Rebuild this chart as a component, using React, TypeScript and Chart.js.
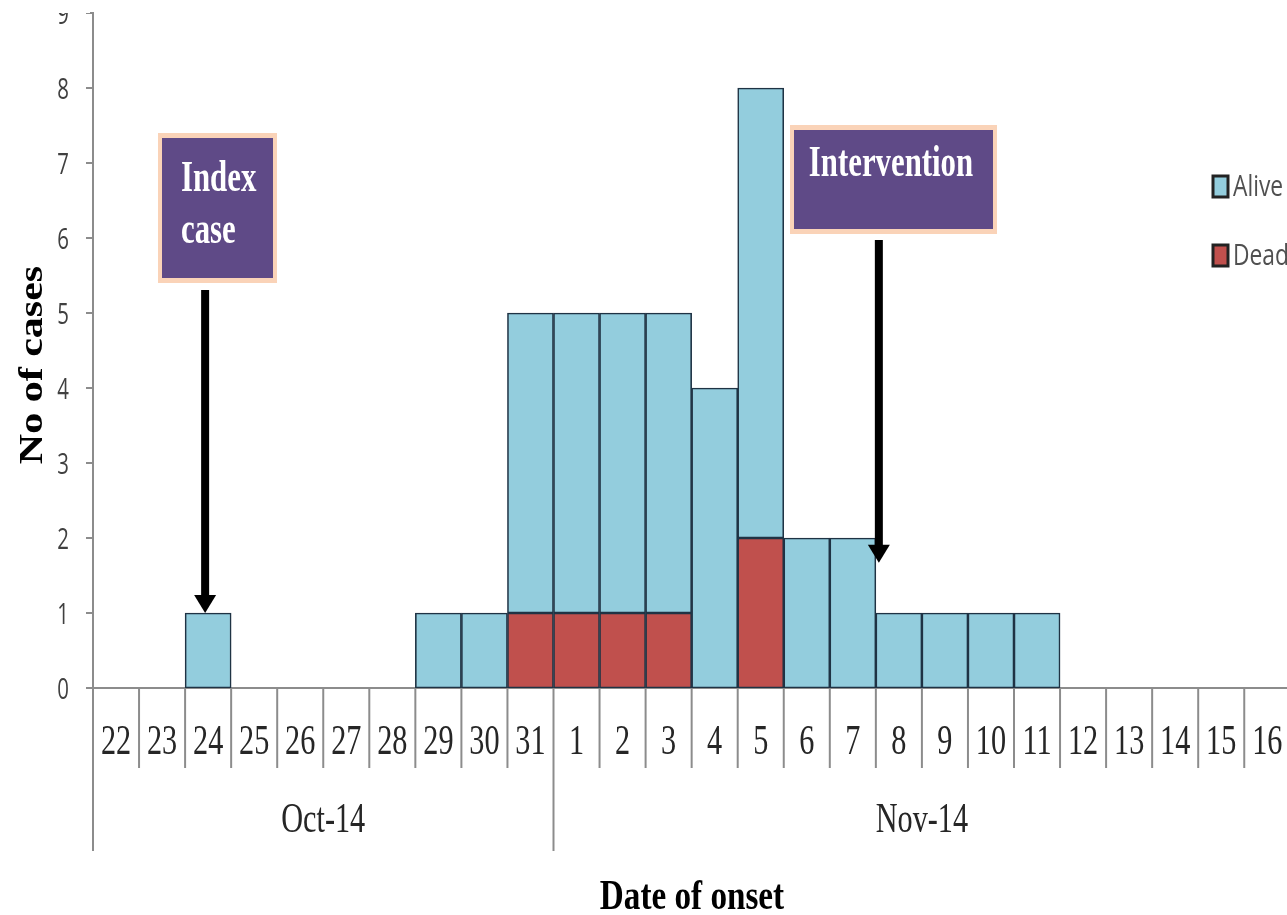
import React, { useEffect, useRef } from "react";
import { Chart, registerables } from "chart.js";

Chart.register(...registerables);

// ---- data ----
const days = ["22", "23", "24", "25", "26", "27", "28", "29", "30", "31", "1", "2", "3", "4", "5", "6", "7", "8", "9", "10", "11", "12", "13", "14", "15", "16"];
const monthLabels = ["Oct-14", "Nov-14"];
const monthStartIndex = [0, 10];
const monthEndIndex = [9, 25];
const alive = [0, 0, 1, 0, 0, 0, 0, 1, 1, 4, 4, 4, 4, 4, 6, 2, 2, 1, 1, 1, 1, 0, 0, 0, 0, 0];
const dead = [0, 0, 0, 0, 0, 0, 0, 0, 0, 1, 1, 1, 1, 0, 2, 0, 0, 0, 0, 0, 0, 0, 0, 0, 0, 0];
const seriesNames = ["Alive", "Dead"];
const yTicks = [0, 1, 2, 3, 4, 5, 6, 7, 8, 9];

const BLUE = "#93CDDD";
const RED = "#C0504D";
const EDGE = "#1f3344";
const AXIS = "#8c8c8c";

function txt(ctx: CanvasRenderingContext2D, s: string, x: number, y: number, font: string, color: string, sx: number, align: CanvasTextAlign = "center") {
  ctx.save();
  ctx.translate(x, y);
  ctx.scale(sx, 1);
  ctx.font = font;
  ctx.fillStyle = color;
  ctx.textAlign = align;
  ctx.textBaseline = "middle";
  ctx.fillText(s, 0, 0);
  ctx.restore();
}

function arrow(ctx: CanvasRenderingContext2D, x: number, y0: number, y1: number) {
  ctx.save();
  ctx.strokeStyle = "#000";
  ctx.fillStyle = "#000";
  ctx.lineWidth = 8;
  ctx.beginPath();
  ctx.moveTo(x, y0);
  ctx.lineTo(x, y1 - 16);
  ctx.stroke();
  ctx.beginPath();
  ctx.moveTo(x - 11, y1 - 18);
  ctx.lineTo(x + 11, y1 - 18);
  ctx.lineTo(x, y1);
  ctx.closePath();
  ctx.fill();
  ctx.restore();
}

function box(ctx: CanvasRenderingContext2D, x0: number, y0: number, x1: number, y1: number) {
  ctx.save();
  ctx.fillStyle = "#FAD3B8";
  ctx.fillRect(x0, y0, x1 - x0, y1 - y0);
  ctx.fillStyle = "#5F4A87";
  ctx.fillRect(x0 + 4, y0 + 5, x1 - x0 - 8, y1 - y0 - 10);
  ctx.restore();
}

const decor = {
  id: "decor",
  afterDraw(chart: any) {
    const ctx: CanvasRenderingContext2D = chart.ctx;
    const xs = chart.scales.x;
    const ys = chart.scales.y;
    const bottom = chart.chartArea.bottom;
    const n = days.length;
    const w = (xs.getPixelForValue(1) - xs.getPixelForValue(0));
    const serif = "'Liberation Serif', 'Times New Roman', serif";

    // y ticks + labels
    ctx.save();
    ctx.strokeStyle = AXIS;
    ctx.lineWidth = 2;
    yTicks.forEach((v) => {
      const y = ys.getPixelForValue(v);
      ctx.beginPath();
      ctx.moveTo(xs.left - 7, y);
      ctx.lineTo(xs.left, y);
      ctx.stroke();
      txt(ctx, String(v), xs.left - 24, y + 2, "30px 'Open Sans', sans-serif", "#404040", 0.68, "right");
    });
    ctx.restore();
    // the reference picture is cut off just above the top tick
    ctx.save();
    ctx.fillStyle = "#fff";
    ctx.fillRect(0, 0, xs.left - 3, ys.getPixelForValue(9));
    ctx.restore();

    // category separators
    ctx.save();
    ctx.strokeStyle = AXIS;
    ctx.lineWidth = 2;
    for (let i = 0; i <= n; i++) {
      const x = xs.getPixelForValue(i) - w / 2;
      const isMonth = monthStartIndex.indexOf(i) >= 0;
      ctx.beginPath();
      ctx.moveTo(x, bottom);
      ctx.lineTo(x, isMonth ? bottom + 163 : bottom + 80);
      ctx.stroke();
    }
    ctx.restore();

    // category labels
    days.forEach((d, i) => {
      txt(ctx, d, xs.getPixelForValue(i), bottom + 55, `42px ${serif}`, "#262626", 0.72);
    });
    // month labels
    monthLabels.forEach((m, k) => {
      const a = xs.getPixelForValue(monthStartIndex[k]) - w / 2;
      const b = xs.getPixelForValue(monthEndIndex[k]) + w / 2;
      txt(ctx, m, (a + b) / 2, bottom + 133, `42px ${serif}`, "#262626", 0.72);
    });

    // axis titles
    txt(ctx, "Date of onset", 692, 898, `bold 42px ${serif}`, "#000", 0.79);
    ctx.save();
    ctx.translate(33, 365);
    ctx.rotate(-Math.PI / 2);
    ctx.scale(1, 0.79);
    ctx.font = `bold 42px ${serif}`;
    ctx.fillStyle = "#000";
    ctx.textAlign = "center";
    ctx.textBaseline = "middle";
    ctx.fillText("No of cases", 0, 0);
    ctx.restore();

    // annotations
    box(ctx, 158, 133, 277, 283);
    txt(ctx, "Index", 181, 180, `bold 44px ${serif}`, "#fff", 0.7, "left");
    txt(ctx, "case", 181, 232, `bold 44px ${serif}`, "#fff", 0.7, "left");
    const xIdx = xs.getPixelForValue(2) - 3;
    arrow(ctx, xIdx, 290, ys.getPixelForValue(1));

    box(ctx, 790, 125, 997, 234);
    txt(ctx, "Intervention", 891, 165, `bold 44px ${serif}`, "#fff", 0.7);
    const xInt = xs.getPixelForValue(16) + w / 2 + 3;
    arrow(ctx, xInt, 240, ys.getPixelForValue(1.67));

    // legend
    const legendColors = [BLUE, RED];
    const legendY = [186, 255];
    seriesNames.forEach((s, k) => {
      ctx.save();
      ctx.fillStyle = legendColors[k];
      ctx.strokeStyle = "#222";
      ctx.lineWidth = 3;
      ctx.fillRect(1213, legendY[k] - 10, 15, 21);
      ctx.strokeRect(1213, legendY[k] - 10, 15, 21);
      ctx.restore();
      txt(ctx, s, 1233, legendY[k] + 1, "30px 'Open Sans', sans-serif", "#505050", 0.76, "left");
    });
  },
};

export default function App() {
  const ref = useRef<HTMLCanvasElement | null>(null);
  useEffect(() => {
    if (!ref.current) return;
    const W = 1340;
    const plotRight = 93 + days.length * 46.05;
    const chart = new Chart(ref.current, {
      type: "bar",
      data: {
        labels: days,
        datasets: [
          {
            label: seriesNames[1],
            data: dead.map((v) => (v === 0 ? null : v)),
            backgroundColor: RED,
            borderColor: EDGE,
            borderWidth: 1.6,
            borderSkipped: false,
            barPercentage: 1,
            categoryPercentage: 1,
          },
          {
            label: seriesNames[0],
            data: alive.map((v) => (v === 0 ? null : v)),
            backgroundColor: BLUE,
            borderColor: EDGE,
            borderWidth: 1.6,
            borderSkipped: false,
            barPercentage: 1,
            categoryPercentage: 1,
          },
        ],
      },
      options: {
        responsive: false,
        animation: false,
        devicePixelRatio: 1,
        layout: { padding: { left: 0, top: 13, right: W - plotRight, bottom: 0 } },
        plugins: { legend: { display: false }, tooltip: { enabled: false }, title: { display: false } },
        scales: {
          x: {
            stacked: true,
            grid: { display: false, drawTicks: false },
            border: { display: true, color: AXIS, width: 2 },
            ticks: { display: false },
            afterFit: (s: any) => {
              s.height = 915 - 688;
            },
          },
          y: {
            stacked: true,
            min: 0,
            max: 9,
            grid: { display: false, drawTicks: false },
            border: { display: true, color: AXIS, width: 2 },
            ticks: { display: false, stepSize: 1 },
            afterFit: (s: any) => {
              s.width = 93;
            },
          },
        },
      },
      plugins: [decor],
    } as any);
    return () => chart.destroy();
  }, []);
  return (
    <div style={{ position: "absolute", left: 0, top: 0, width: 1287, height: 915, overflow: "hidden", background: "#fff" }}>
      <canvas ref={ref} width={1340} height={915} style={{ display: "block" }} />
    </div>
  );
}
